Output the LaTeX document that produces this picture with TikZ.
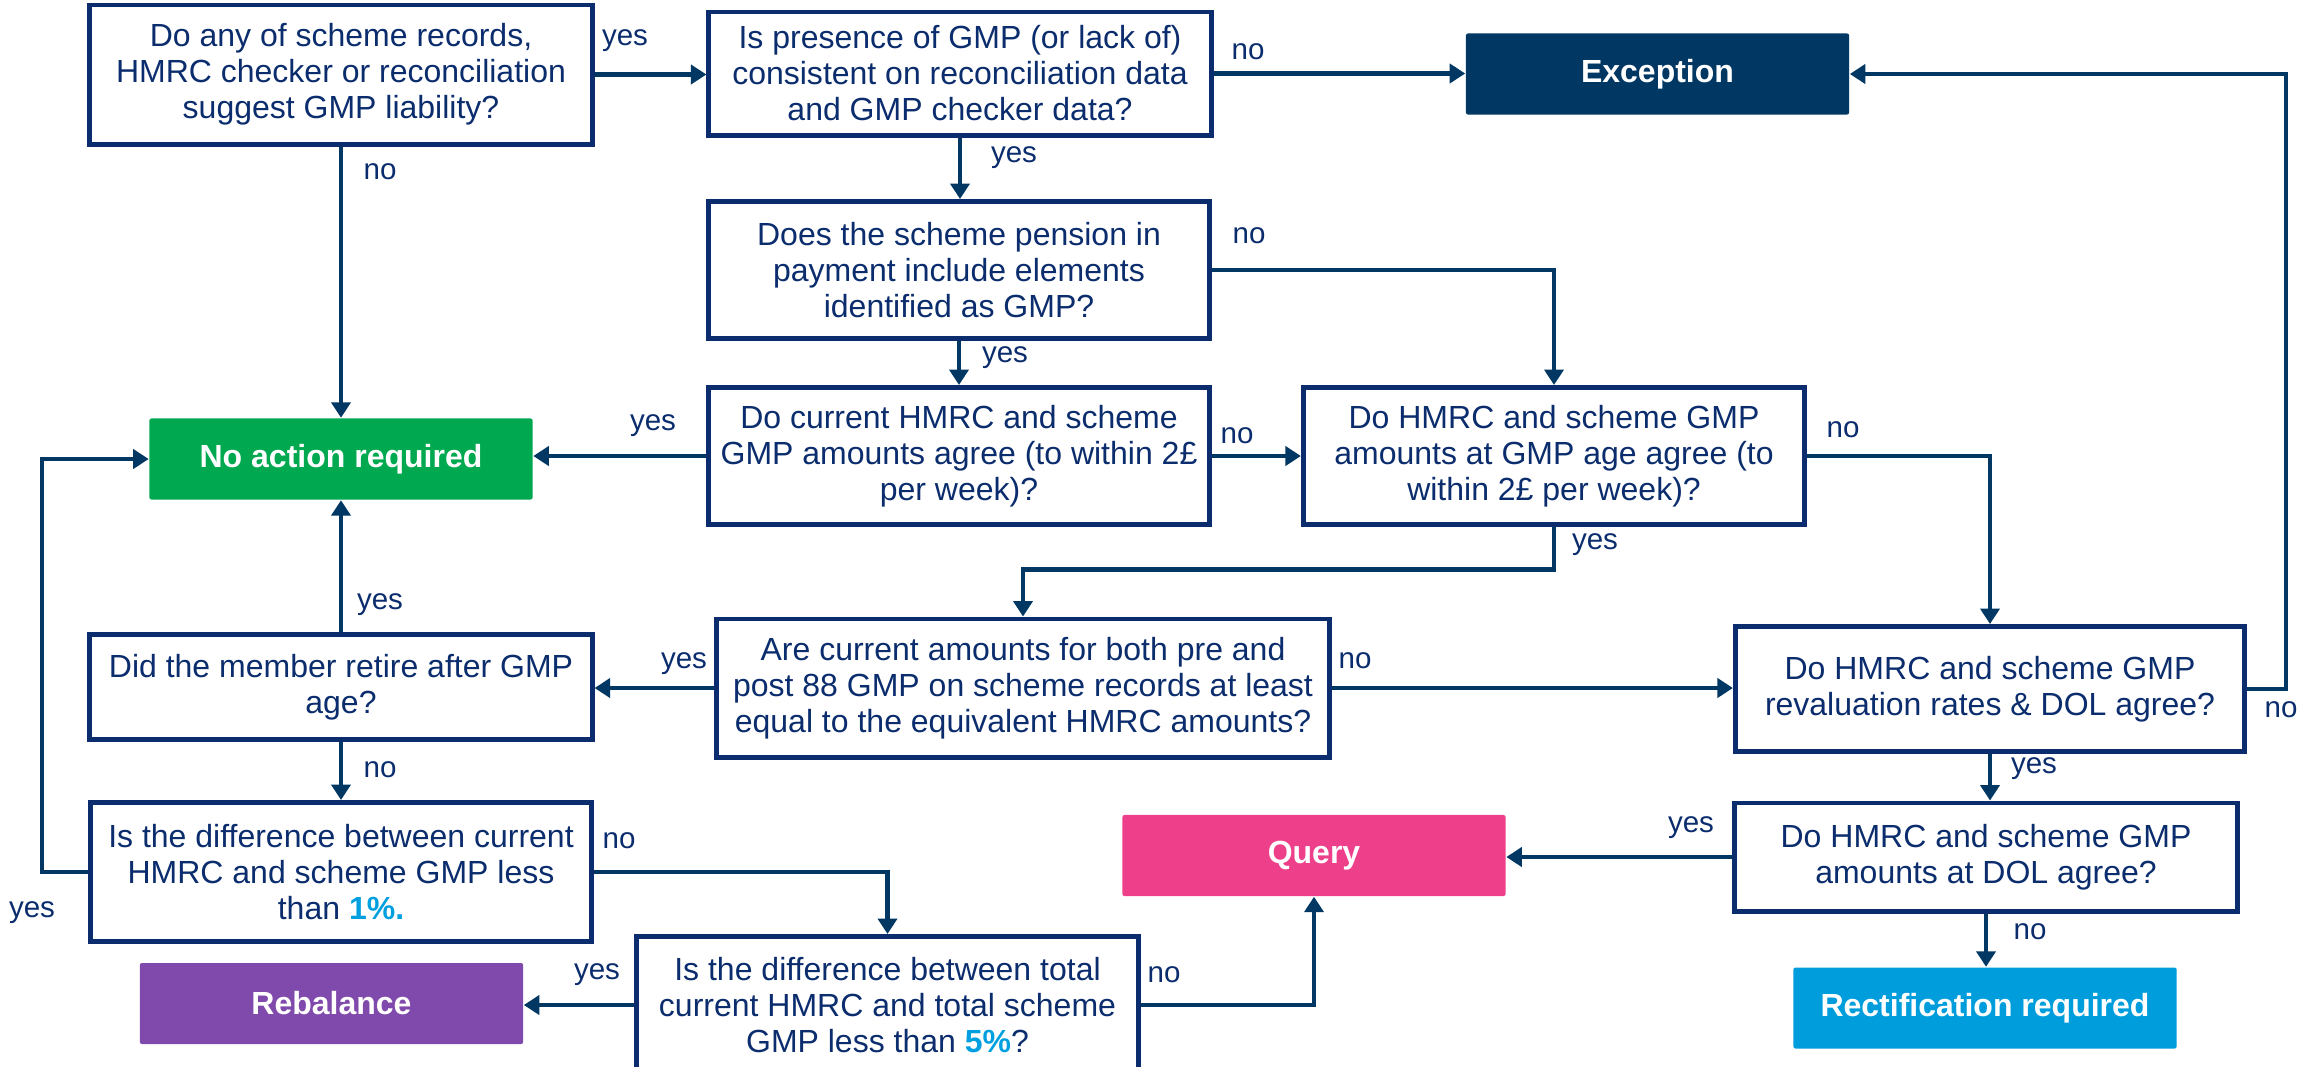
\documentclass[tikz,border=0pt]{standalone}
\usepackage{fontspec}
\setmainfont{Liberation Sans}
\usepackage{tikz}
\usetikzlibrary{arrows.meta,positioning,calc}
\definecolor{navy}{HTML}{0B2D6D}
\definecolor{darkblue}{HTML}{003763}
\definecolor{actgreen}{HTML}{00A84F}
\definecolor{querypink}{HTML}{EE3F8A}
\definecolor{rebalpurple}{HTML}{8049AC}
\definecolor{rectblue}{HTML}{009DDC}
\definecolor{hlblue}{HTML}{00A0E0}

\begin{document}
\begin{tikzpicture}[x=0.01cm,y=-0.01cm,
  question/.style={draw=navy,line width=1.4pt,fill=white,text=navy,align=center,
    inner sep=0pt,font=\fontsize{9.1}{10.25}\selectfont},
  outcome/.style={fill=#1,text=white,minimum width=3.83cm,minimum height=0.81cm,
    rounded corners=0.6pt,font=\fontsize{9.1}{10.25}\selectfont\bfseries},
  lbl/.style={text=navy,inner sep=0pt,font=\fontsize{8.4}{10}\selectfont},
  flow/.style={draw=darkblue,line width=1.2pt,-{Triangle[length=4.4pt,width=5.4pt]}}]
  \useasboundingbox (0,0) rectangle (2310,1066);

  % Questions
  \node[question,minimum width=5.02cm,minimum height=1.39cm] (q1) at (341,74.5)
    {Do any of scheme records,\\HMRC checker or reconciliation\\suggest GMP liability?};
  \node[question,minimum width=5.02cm,minimum height=1.23cm] (q2) at (960,73.5)
    {Is presence of GMP (or lack of)\\consistent on reconciliation data\\and GMP checker data?};
  \node[question,minimum width=5.00cm,minimum height=1.37cm] (q3) at (959,270)
    {Does the scheme pension in\\payment include elements\\identified as GMP?};
  \node[question,minimum width=5.00cm,minimum height=1.37cm] (q4) at (959,456)
    {Do current HMRC and scheme\\GMP amounts agree (to within 2£\\per week)?};
  \node[question,minimum width=5.01cm,minimum height=1.37cm] (q5) at (1554,456)
    {Do HMRC and scheme GMP\\amounts at GMP age agree (to\\within 2£ per week)?};
  \node[question,minimum width=6.12cm,minimum height=1.38cm] (q6) at (1023,688)
    {Are current amounts for both pre and\\post 88 GMP on scheme records at least\\equal to the equivalent HMRC amounts?};
  \node[question,minimum width=5.09cm,minimum height=1.25cm] (q7) at (1990,689)
    {Do HMRC and scheme GMP\\revaluation rates \& DOL agree?};
  \node[question,minimum width=5.02cm,minimum height=1.05cm] (q8) at (341,687)
    {Did the member retire after GMP\\age?};
  \node[question,minimum width=5.01cm,minimum height=1.39cm] (q9) at (341,872)
    {Is the difference between current\\HMRC and scheme GMP less\\than {\bfseries\color{hlblue}1\%.}};
  \node[question,minimum width=5.01cm,minimum height=1.37cm] (q10) at (887.5,1005)
    {Is the difference between total\\current HMRC and total scheme\\GMP less than {\bfseries\color{hlblue}5\%}?};
  \node[question,minimum width=5.02cm,minimum height=1.08cm] (q11) at (1986,857)
    {Do HMRC and scheme GMP\\amounts at DOL agree?};

  % Outcomes
  \node[outcome=darkblue] (exc) at (1657.5,74) {Exception};
  \node[outcome=actgreen] (noact) at (341,459) {No action required};
  \node[outcome=querypink] (query) at (1314,855.5) {Query};
  \node[outcome=rebalpurple] (rebal) at (331.5,1003.5) {Rebalance};
  \node[outcome=rectblue] (rect) at (1985,1008) {Rectification required};

  % Connectors
  \draw[flow] (q1.east) -- (q1.east -| q2.west);
  \draw[flow] (q1.south) -- (q1.south |- noact.north);
  \draw[flow] (q2.east) -- (q2.east -| exc.west);
  \draw[flow] (q2.south) -- (q2.south |- q3.north);
  \draw[flow] (q3.east) -| (q5.north);
  \draw[flow] (q3.south) -- (q3.south |- q4.north);
  \draw[flow] (q4.west) -- (q4.west -| noact.east);
  \draw[flow] (q4.east) -- (q5.west);
  \draw[flow] (q5.east) -| (q7.north);
  \draw[flow] (q5.south) |- ($(q6.north)+(0,-47)$) -- (q6.north);
  \draw[flow] (q6.west) -- (q6.west -| q8.east);
  \draw[flow] (q6.east) -- (q6.east -| q7.west);
  \draw[flow] (q7.east) -- ++(39,0) |- (exc.east);
  \draw[flow] (q7.south) -- (q7.south |- q11.north);
  \draw[flow] (q8.north) -- (q8.north |- noact.south);
  \draw[flow] (q8.south) -- (q8.south |- q9.north);
  \draw[flow] (q9.west) -- ++(-46,0) |- (noact.west);
  \draw[flow] (q9.east) -| (q10.north);
  \draw[flow] (q10.west) -- (q10.west -| rebal.east);
  \draw[flow] (q10.east) -| (query.south);
  \draw[flow] (q11.west) -- (q11.west -| query.east);
  \draw[flow] (q11.south) -- (q11.south |- rect.north);

  % yes / no labels
  \node[lbl] (y1) at (625,41) {yes};
  \node[lbl] (n1) at (380,172) {no};
  \node[lbl] (n2) at (1248,52) {no};
  \node[lbl] (y2) at (1014,158) {yes};
  \node[lbl] (n3) at (1249,236) {no};
  \node[lbl] (y3) at (1005,358) {yes};
  \node[lbl] (y4) at (653,426) {yes};
  \node[lbl] (n4) at (1237,436) {no};
  \node[lbl] (n5) at (1843,430) {no};
  \node[lbl] (y5) at (1595,545) {yes};
  \node[lbl] (y8) at (380,605) {yes};
  \node[lbl] (y6) at (684,664) {yes};
  \node[lbl] (n6) at (1355,661) {no};
  \node[lbl] (n7) at (2281,710) {no};
  \node[lbl] (y7) at (2034,769) {yes};
  \node[lbl] (n8) at (380,770) {no};
  \node[lbl] (n9) at (619,841) {no};
  \node[lbl] (y9) at (32,913) {yes};
  \node[lbl] (y11) at (1691,828) {yes};
  \node[lbl] (n11) at (2030,932) {no};
  \node[lbl] (y10) at (597,975) {yes};
  \node[lbl] (n10) at (1164,975) {no};
\end{tikzpicture}
\end{document}
